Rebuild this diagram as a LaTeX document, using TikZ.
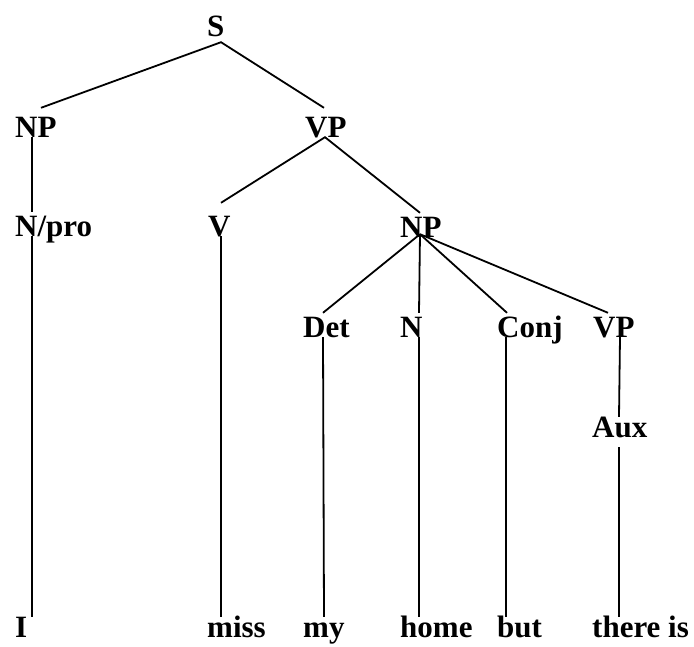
\documentclass[tikz,border=0pt]{standalone}
\usepackage{fontspec}
\setmainfont{Liberation Serif}
\begin{document}
\begin{tikzpicture}[x=1pt,y=-1pt,
 cat/.style={anchor=base west,inner sep=0pt,text height=20pt,text depth=0pt,
   font=\fontsize{31}{31}\selectfont\bfseries},
 branch/.style={line width=1.8pt}]
 \useasboundingbox (0,0) rectangle (694,646);
 % categories
 \node[cat] (s) at (207,36) {S};
 \node[cat] (np) at (15,137) {NP};
 \node[cat] (vp) at (305,137) {VP};
 \node[cat] (npro) at (15,236) {N/pro};
 \node[cat] (v) at (208,236) {V};
 \node[cat] (np2) at (400,237) {NP};
 \node[cat] (det) at (303,337) {Det};
 \node[cat] (n) at (400,337) {N};
 \node[cat] (conj) at (497,337) {Conj};
 \node[cat] (vp2) at (593,337) {VP};
 \node[cat] (aux) at (592,437) {Aux};
 % words
 \node[cat] (i) at (15,637) {I};
 \node[cat] (miss) at (207,637) {miss};
 \node[cat] (my) at (303,637) {my};
 \node[cat] (home) at (400,637) {home};
 \node[cat] (but) at (497,637) {but};
 \node[cat] (there) at (592,637) {there is};
 % branches
 \draw[branch] ([shift={(26,-9)}]np.north west) -- ([shift={(14,6)}]s.south west)
   -- ([shift={(19,-9)}]vp.north west);
 \draw[branch] ([shift={(17,0)}]np.south west) -- ([shift={(17,-4)}]npro.north west);
 \draw[branch] ([shift={(17,0)}]npro.south west) -- ([shift={(17,0)}]i.north west);
 \draw[branch] ([shift={(13,-13)}]v.north west) -- ([shift={(20,0)}]vp.south west)
   -- ([shift={(20,-4)}]np2.north west);
 \draw[branch] ([shift={(13,0)}]v.south west) -- ([shift={(14,0)}]miss.north west);
 \draw[branch] ([shift={(20,-3)}]np2.south west) -- ([shift={(20,-4)}]det.north west);
 \draw[branch] ([shift={(20,-3)}]np2.south west) -- ([shift={(19,-4)}]n.north west);
 \draw[branch] ([shift={(20,-3)}]np2.south west) -- ([shift={(10,-4)}]conj.north west);
 \draw[branch] ([shift={(20,-3)}]np2.south west) -- ([shift={(15,-4)}]vp2.north west);
 \draw[branch] ([shift={(20,0)}]det.south west) -- ([shift={(21,0)}]my.north west);
 \draw[branch] ([shift={(19,0)}]n.south west) -- ([shift={(19,0)}]home.north west);
 \draw[branch] ([shift={(9,0)}]conj.south west) -- ([shift={(9,0)}]but.north west);
 \draw[branch] ([shift={(27,0)}]vp2.south west) -- ([shift={(27,0)}]aux.north west);
 \draw[branch] ([shift={(27,10)}]aux.south west) -- ([shift={(27,0)}]there.north west);
\end{tikzpicture}
\end{document}
